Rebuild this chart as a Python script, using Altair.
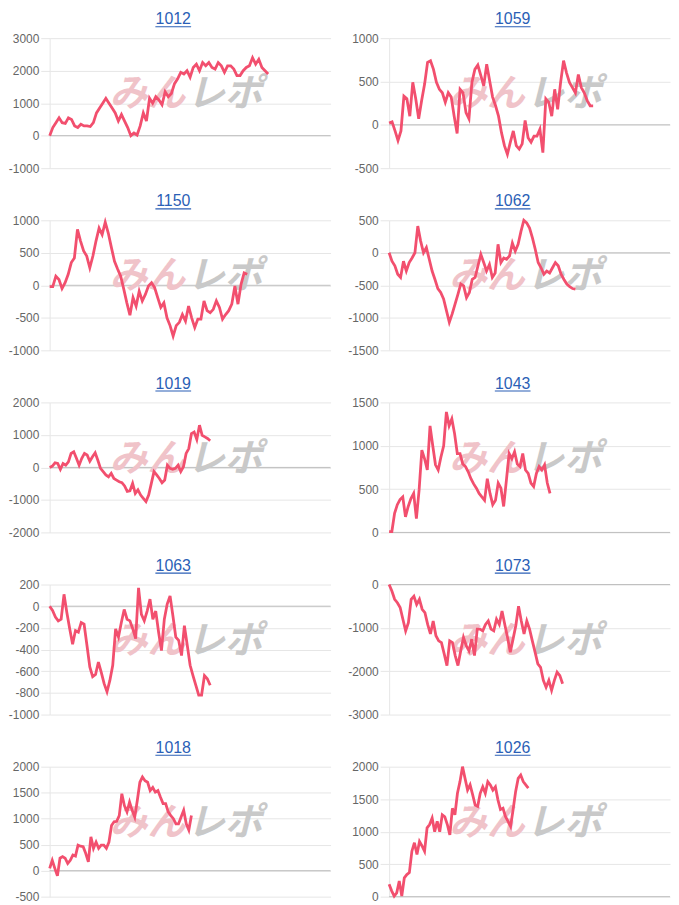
import altair as alt
import pandas as pd

names = ["1012", "1059", "1150", "1062", "1019", "1043", "1063", "1073", "1018", "1026"]

s1012 = [0, 250, 400, 550, 400, 380, 550, 500, 300, 250, 350, 300, 300, 280, 400, 700, 850, 1000, 1150, 1000,
         850, 700, 450, 650, 450, 250, 0, 80, 20, 300, 700, 450, 1150, 1000, 1200, 1100, 950, 1350, 1200, 1300,
         1600, 1750, 1950, 1900, 2000, 1800, 2100, 2200, 2000, 2250, 2150, 2250, 2100, 2050, 2250, 2150, 1950,
         2150, 2150, 2050, 1850, 1850, 2000, 2100, 2150, 2400, 2200, 2350, 2100, 2000, 1900]
s1059 = [20, 35, -70, -180, -70, 330, 300, 100, 490, 300, 70, 280, 470, 720, 740, 640, 490, 410, 370, 260,
         370, 320, 100, -100, 410, 370, 140, 70, 490, 640, 690, 570, 450, 700, 510, 320, 220, 100, -90, -240,
         -340, -200, -70, -240, -280, -220, 50, -150, -200, -130, -130, -50, -320, 300, 260, 100, 410, 180, 490,
         740, 600, 490, 430, 370, 580, 430, 370, 280, 220, 220]
s1150 = [-20, -20, 140, 90, -50, 40, 170, 350, 420, 860, 680, 530, 450, 270, 450, 680, 880, 780, 970, 800,
         580, 370, 250, 140, -60, -270, -460, -190, -320, -90, -240, -140, -10, 40, -35, -190, -340, -270, -500,
         -620, -780, -620, -570, -450, -550, -320, -500, -650, -520, -520, -240, -390, -420, -370, -240, -340,
         -520, -450, -390, -290, -10, -290, 15, 190, 170]
s1062 = [0, -130, -200, -330, -380, -130, -280, -150, -80, 0, 410, 180, 0, 80, -100, -280, -410, -550, -610,
         -710, -890, -1070, -940, -790, -640, -480, -510, -690, -610, -410, -380, -200, -25, -150, -280, -180,
         -380, -310, 130, -150, -80, -100, -50, 150, 25, 130, 330, 500, 460, 380, 230, 50, -150, -230, -330,
         -280, -310, -230, -150, -200, -330, -410, -480, -520, -550, -560]
s1019 = [0, 40, 140, 120, -60, 120, 70, 170, 430, 480, 280, 70, 280, 430, 380, 190, 330, 450, 220, -30, -130,
         -230, -290, -180, -340, -390, -440, -470, -570, -740, -720, -490, -800, -690, -850, -950, -1050, -850,
         -490, -130, -230, -340, -470, -390, 70, -30, -60, -30, 70, -130, 20, 430, 580, 1040, 1090, 860, 1300,
         990, 940, 890, 820]
s1043 = [10, 10, 220, 320, 380, 410, 180, 300, 390, 450, 160, 490, 950, 850, 720, 1230, 1000, 780, 720, 870,
         1000, 1390, 1230, 1310, 1140, 910, 910, 790, 760, 700, 620, 560, 510, 450, 410, 370, 620, 450, 320, 370,
         570, 510, 300, 600, 910, 850, 930, 790, 760, 910, 720, 680, 570, 530, 680, 760, 720, 780, 570, 450]
s1063 = [0, -40, -100, -135, -120, 110, -60, -210, -350, -225, -240, -150, -165, -360, -560, -650, -630, -515,
         -610, -715, -790, -685, -545, -210, -285, -150, -30, -120, -135, -210, -300, 170, -75, -135, -45, 65,
         -120, -45, -240, -410, -120, 20, 95, -90, -285, -315, -455, -180, -360, -545, -640, -730, -820, -820,
         -640, -670, -730]
s1073 = [0, -150, -340, -420, -530, -800, -1070, -880, -340, -270, -460, -340, -570, -650, -920, -1140, -840,
         -1180, -1300, -1340, -1600, -1870, -1300, -1340, -1640, -1870, -1530, -1220, -1410, -1530, -1260, -1640,
         -1030, -1030, -1070, -920, -840, -1030, -1070, -800, -920, -610, -920, -1220, -1560, -1260, -950, -500,
         -840, -1140, -840, -1030, -1300, -1560, -1830, -1910, -2210, -2370, -2210, -2440, -2210, -2020, -2100,
         -2290]
s1018 = [45, 200, 45, -100, 240, 270, 240, 140, 200, 300, 280, 490, 470, 460, 330, 170, 650, 430, 550, 430,
         490, 490, 430, 550, 870, 940, 950, 1060, 1480, 1250, 1130, 1320, 1160, 1030, 1350, 1700, 1800, 1730,
         1700, 1540, 1600, 1510, 1540, 1410, 1290, 1290, 1130, 1060, 1000, 900, 900, 1030, 1160, 900, 780, 1060]
s1026 = [190, 90, 10, 60, 240, 10, 290, 340, 370, 700, 830, 650, 850, 780, 700, 1060, 1110, 1210, 1000, 1160,
         1000, 1260, 1230, 1110, 950, 1360, 1260, 1590, 1770, 2000, 1820, 1640, 1720, 1570, 1410, 1390, 1590,
         1690, 1590, 1770, 1720, 1640, 1690, 1490, 1340, 1360, 1230, 1160, 1080, 1340, 1620, 1820, 1870, 1770,
         1720, 1670]

series = [s1012, s1059, s1150, s1062, s1019, s1043, s1063, s1073, s1018, s1026]

y_ticks = [
    [-1000, 0, 1000, 2000, 3000],
    [-500, 0, 500, 1000],
    [-1000, -500, 0, 500, 1000],
    [-1500, -1000, -500, 0, 500],
    [-2000, -1000, 0, 1000, 2000],
    [0, 500, 1000, 1500],
    [-1000, -800, -600, -400, -200, 0, 200],
    [-3000, -2000, -1000, 0],
    [-500, 0, 500, 1000, 1500, 2000],
    [0, 500, 1000, 1500, 2000],
]

# total games on the x axis of each panel
x_total = [90, 95, 91, 98, 105, 103, 98, 102, 109, 111]

LINE = "#f24f6e"
GRID = "#e6e6e6"
ZERO = "#bdbdbd"
TITLE = "#2b5fb6"
W, H = 283, 131
FONT = "Liberation Sans"


def panel(name, values, ticks, xtot):
    df = pd.DataFrame({"i": list(range(len(values))), "v": values})
    yscale = alt.Scale(domain=[ticks[0], ticks[-1]], nice=False, zero=False)
    xscale = alt.Scale(domain=[0, xtot], nice=False, zero=False)
    yaxis = alt.Axis(
        values=ticks, title=None, grid=True, gridColor=GRID, domain=True, domainColor=GRID,
        ticks=True, tickColor=GRID, tickSize=9, labelPadding=2, labelColor="#666666",
        labelFontSize=12, labelFont=FONT, labelExpr="'' + datum.value")

    zero = alt.Chart(pd.DataFrame({"v": [0]})).mark_rule(color=ZERO, strokeWidth=1).encode(
        y=alt.Y("v:Q", scale=yscale, axis=yaxis)
    )
    line = alt.Chart(df).mark_line(color=LINE, strokeWidth=2.8, interpolate="linear").encode(
        x=alt.X("i:Q", scale=xscale, axis=None),
        y=alt.Y("v:Q", scale=yscale, axis=yaxis),
    )
    wm_a = alt.Chart(pd.DataFrame({"t": ["みん"]})).mark_text(
        font="Noto Sans CJK JP", fontSize=38, fontWeight="bold", fontStyle="italic",
        color="#f0c3c9", align="right", baseline="middle"
    ).encode(text="t:N", x=alt.value(W / 2 - 5), y=alt.value(H * 0.44))
    wm_b = alt.Chart(pd.DataFrame({"t": ["レポ"]})).mark_text(
        font="Noto Sans CJK JP", fontSize=38, fontWeight="bold", fontStyle="italic",
        color="#c9c9c9", align="left", baseline="middle"
    ).encode(text="t:N", x=alt.value(W / 2 - 3), y=alt.value(H * 0.44))
    cx = W / 2 - 17
    title = alt.Chart(pd.DataFrame({"t": [name]})).mark_text(
        font=FONT, fontSize=16, color=TITLE, align="center", baseline="alphabetic"
    ).encode(text="t:N", x=alt.value(cx), y=alt.value(-14))
    underline = alt.Chart(pd.DataFrame({"t": [name]})).mark_rule(color=TITLE, strokeWidth=1.2).encode(
        x=alt.value(cx - 18), x2=alt.value(cx + 18), y=alt.value(-11.5)
    )
    return alt.layer(zero, wm_a, wm_b, line, title, underline).properties(width=W, height=H)


charts = [panel(n, s, t, x) for n, s, t, x in zip(names, series, y_ticks, x_total)]

chart = alt.concat(*charts, columns=2, spacing={"row": 19.5, "column": 16}).properties(
    padding=0
).configure_view(stroke=None)

chart.save("out.html", embed_options={"renderer": "svg", "actions": False})
